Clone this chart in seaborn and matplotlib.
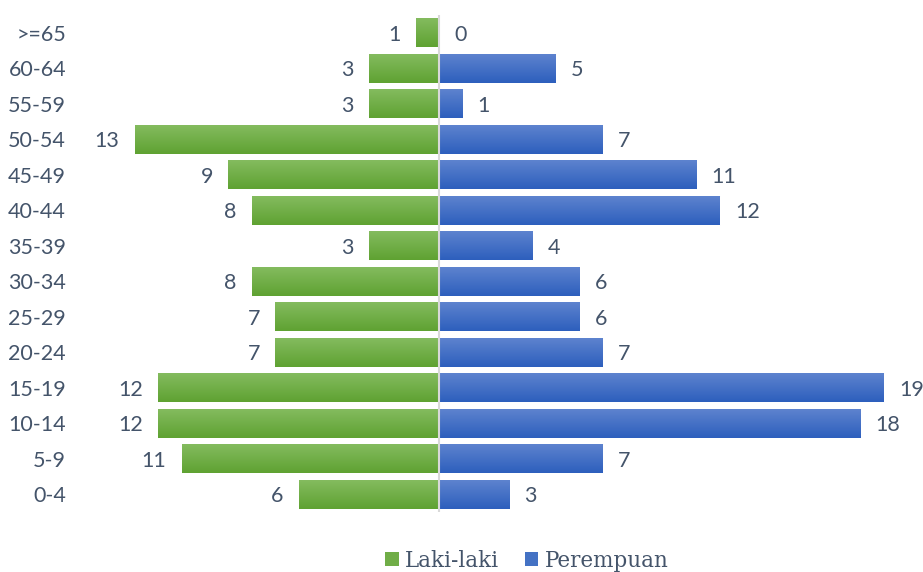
import numpy as np
import pandas as pd
import matplotlib
matplotlib.use("Agg")
import matplotlib.pyplot as plt
import seaborn as sns
from matplotlib.colors import LinearSegmentedColormap
from matplotlib.patches import Patch

# Age groups and counts per sex
ages = ['0-4', '5-9', '10-14', '15-19', '20-24', '25-29', '30-34', '35-39',
        '40-44', '45-49', '50-54', '55-59', '60-64', '>=65']
male = [6, 11, 12, 12, 7, 7, 8, 3, 8, 9, 13, 3, 3, 1]
female = [3, 7, 18, 19, 7, 6, 6, 4, 12, 11, 7, 1, 5, 0]
series = ['Laki-laki', 'Perempuan']

order = ages[::-1]  # oldest group on top

df = pd.DataFrame({
    'age': ages * 2,
    'sex': [series[0]] * len(ages) + [series[1]] * len(ages),
    'count': male + female,
})
df['signed'] = np.where(df['sex'] == series[0], -df['count'], df['count'])

sns.set_theme(style='white')
plt.rcParams['font.family'] = ['Lato', 'DejaVu Sans']
text_color = '#44546a'

green_top, green_bot = '#85bc60', '#5fa232'
blue_top, blue_bot = '#5f84cf', '#2d5fbd'

fig = plt.figure(figsize=(9.23, 5.72), dpi=100)
ax = fig.add_axes([80 / 923, 1 - 512 / 572, (915 - 80) / 923, (512 - 15) / 572])

sns.barplot(data=df, x='signed', y='age', hue='sex', order=order,
            hue_order=series, dodge=False, orient='h', width=0.82,
            palette=[green_bot, blue_bot], legend=False, ax=ax)

scale = 23.4  # pixels per person
xlim = (-(439 - 80) / scale, (915 - 439) / scale)
ylim = (len(order) - 0.5, -0.5)

# vertical gradient fill on each bar
grad = np.linspace(0, 1, 64).reshape(-1, 1)
cmaps = {
    series[0]: LinearSegmentedColormap.from_list('g', [green_top, green_bot]),
    series[1]: LinearSegmentedColormap.from_list('b', [blue_top, blue_bot]),
}
for p in list(ax.patches):
    x0, y0 = p.get_x(), p.get_y()
    w, h = p.get_width(), p.get_height()
    if w == 0:
        continue
    left, right = min(x0, x0 + w), max(x0, x0 + w)
    key = series[0] if left < 0 else series[1]
    im = ax.imshow(grad, cmap=cmaps[key], aspect='auto',
                   extent=(left, right, y0 + h, y0), zorder=p.get_zorder() + 0.1,
                   interpolation='bicubic')
    im.set_clip_path(p)
ax.set_xlim(*xlim)
ax.set_ylim(*ylim)

# centre line
ax.axvline(0, color='#d9d9d9', lw=1.5, zorder=5)

# value labels
off = 0.65
for i, a in enumerate(order):
    k = ages.index(a)
    ax.text(-male[k] - off, i, str(male[k]), ha='right', va='center_baseline',
            fontsize=15.5, color=text_color)
    ax.text(female[k] + off, i, str(female[k]), ha='left', va='center_baseline',
            fontsize=15.5, color=text_color)

ax.set_xlabel('')
ax.set_ylabel('')
ax.set_xticks([])
ax.tick_params(axis='y', length=0, pad=10, labelsize=15.5, labelcolor=text_color)
for s in ax.spines.values():
    s.set_visible(False)

handles = [Patch(facecolor='#70ad47', edgecolor='none'),
           Patch(facecolor='#4472c4', edgecolor='none')]
fig.legend(handles, series, loc='center', bbox_to_anchor=(527 / 923, 1 - 561 / 572),
           ncol=2, frameon=False, handlelength=0.62, handleheight=0.62,
           handletextpad=0.3, columnspacing=1.2, borderaxespad=0, borderpad=0,
           prop={'family': 'DejaVu Serif', 'size': 15.5}, labelcolor=text_color)

fig.savefig('out.png', dpi=100)
